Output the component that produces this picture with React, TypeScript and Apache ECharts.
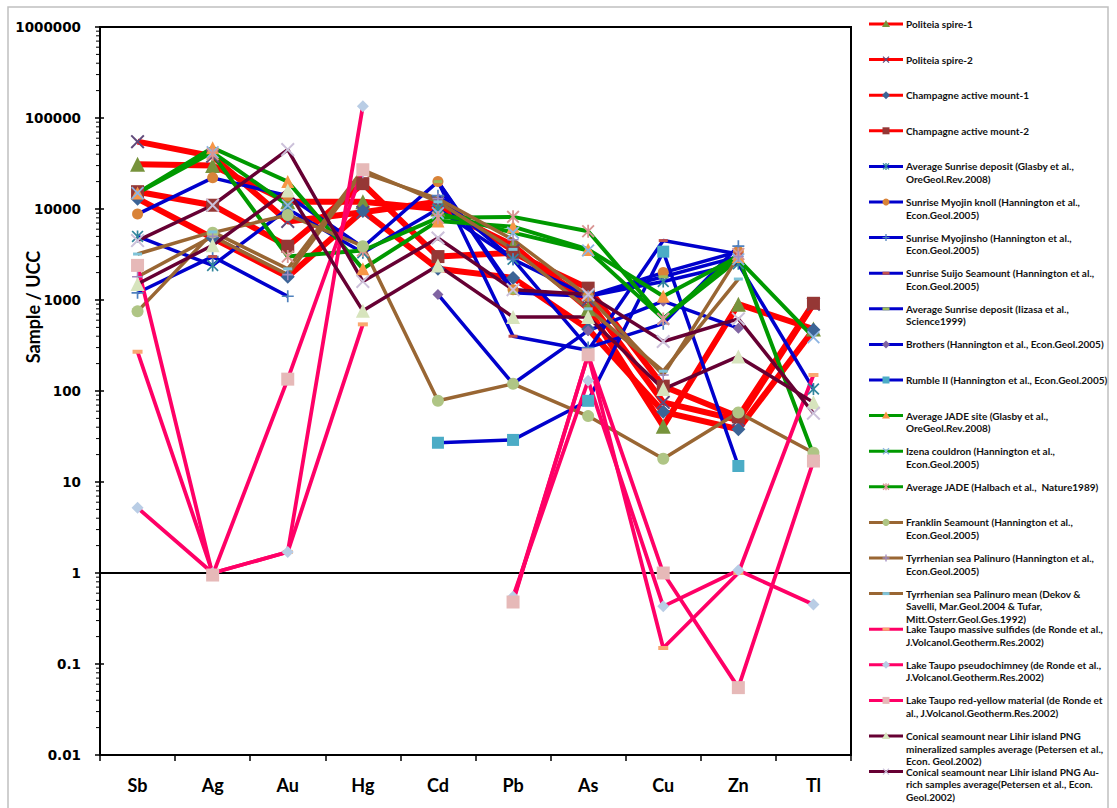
import React, { useEffect, useRef } from 'react';
import * as echarts from 'echarts';

// ---------- data ----------
const elements = ['Sb', 'Ag', 'Au', 'Hg', 'Cd', 'Pb', 'As', 'Cu', 'Zn', 'Tl'];

const politeiaSpire1 = [31000, 30000, 12000, 12000, 10000, 4000, 800, 41, 900, 480];
const politeiaSpire2 = [55000, 38000, 7300, 9200, 12000, 3500, 1000, 75, 48, 900];
const champagne1 = [13000, 4800, 1800, 9500, 2200, 1750, 480, 59, 38, 470];
const champagne2 = [15500, 11000, 3900, 19000, 3000, 3300, 1350, 113, 52, 920];
const sunriseGlasby = [5000, 2400, 10000, 3300, 10000, 2800, 1100, 1600, 2500, 105];
const myojinKnoll = [8800, 22000, 14000, 3800, 20000, 1300, 1100, 2000, 3400, null];
const myojinsho = [1200, 3000, 1100, null, 14000, 2800, 300, 550, 3900, null];
const suijo = [null, 3000, null, null, 20000, 400, 280, 4500, 3200, null];
const sunriseIizasa = [null, null, null, null, 20000, 1200, 1100, 1800, 3000, null];
const brothers = [null, null, null, null, 1150, 120, 460, 970, 490, null];
const rumble2 = [null, null, null, null, 27, 29, 78, 3400, 15, null];
const jadeGlasby = [15000, 47000, 20000, 2200, 7400, 6400, 3600, 1100, 3000, 20];
const izena = [15000, 42000, 11000, null, 9000, 5500, 3500, 620, 2800, 390];
const jadeHalbach = [null, 40000, 3000, 3500, 8000, 8200, 5700, 620, 3200, null];
const franklin = [750, 5500, 8600, 3900, 78, 120, 53, 18, 58, 21];
const palinuro = [1800, 5000, 1900, 25000, 13000, 4600, 1100, 150, 3000, null];
const palinuroMean = [3200, 5600, 2200, 27000, 12000, 3600, 800, 165, 1700, null];
const taupoMassive = [270, 1, 1.7, 540, null, 0.5, 250, 0.15, 1.0, 150];
const taupoPseudo = [5.2, 1, 1.7, 135000, null, 0.55, 130, 0.43, 1.07, 0.45];
const taupoRedYellow = [2400, 0.95, 135, 27000, null, 0.48, 250, 1.0, 0.055, 17];
const conicalMineral = [1500, 4000, 16000, 760, 2400, 650, 650, 105, 240, 75];
const conicalAuRich = [4500, 11000, 45000, 1600, 4800, 1300, 1150, 350, 620, 57];

const seriesNames = [
  'Politeia spire-1',
  'Politeia spire-2',
  'Champagne active mount-1',
  'Champagne active mount-2',
  'Average Sunrise deposit (Glasby et al.,\nOreGeol.Rev.2008)',
  'Sunrise Myojin knoll (Hannington et al.,\nEcon.Geol.2005)',
  'Sunrise Myojinsho (Hannington et al.,\nEcon.Geol.2005)',
  'Sunrise Suijo Seamount (Hannington et al.,\nEcon.Geol.2005)',
  'Average Sunrise deposit (Iizasa et al.,\nScience1999)',
  'Brothers (Hannington et al., Econ.Geol.2005)',
  'Rumble II (Hannington et al., Econ.Geol.2005)',
  'Average JADE site (Glasby et al.,\nOreGeol.Rev.2008)',
  'Izena couldron (Hannington et al.,\nEcon.Geol.2005)',
  'Average JADE (Halbach et al.,  Nature1989)',
  'Franklin Seamount (Hannington et al.,\nEcon.Geol.2005)',
  'Tyrrhenian sea Palinuro (Hannington et al.,\nEcon.Geol.2005)',
  'Tyrrhenian sea Palinuro mean (Dekov &\nSavelli, Mar.Geol.2004 & Tufar,\nMitt.Osterr.Geol.Ges.1992)',
  'Lake Taupo massive sulfides (de Ronde et al.,\nJ.Volcanol.Geotherm.Res.2002)',
  'Lake Taupo pseudochimney (de Ronde et al.,\nJ.Volcanol.Geotherm.Res.2002)',
  'Lake Taupo red-yellow material (de Ronde et\nal., J.Volcanol.Geotherm.Res.2002)',
  'Conical seamount near Lihir island PNG\nmineralized samples average (Petersen et al.,\nEcon. Geol.2002)',
  'Conical seamount near Lihir island PNG Au-\nrich samples average(Petersen et al., Econ.\nGeol.2002)',
];

// ---------- styling ----------
const RED = '#FF0000', BLUE = '#0000CC', GREEN = '#009900', BROWN = '#996633', PINK = '#FF0066', PURP = '#660033';

const PATHS: Record<string, string> = {
  x: 'path://M0,1 L1,0 L5,4 L9,0 L10,1 L6,5 L10,9 L9,10 L5,6 L1,10 L0,9 L4,5 Z',
  plus: 'path://M4.3,0 H5.7 V4.3 H10 V5.7 H5.7 V10 H4.3 V5.7 H0 V4.3 H4.3 Z',
  star: 'path://M0,1 L1,0 L5,4 L9,0 L10,1 L6,5 L10,9 L9,10 L5,6 L1,10 L0,9 L4,5 Z M4.3,0 H5.7 V10 H4.3 Z',
  dash: 'path://M0,0 H10 V3 H0 Z',
};

type Def = { data: (number | null)[]; line: string; width: number; kind: string; color: string; size: number | number[] };

const defs: Def[] = [
  { data: politeiaSpire1, line: RED, width: 6, kind: 'triangle', color: '#77933C', size: 15 },
  { data: politeiaSpire2, line: RED, width: 6, kind: 'x', color: '#604A7B', size: 14 },
  { data: champagne1, line: RED, width: 6, kind: 'diamond', color: '#3C6496', size: 14 },
  { data: champagne2, line: RED, width: 6, kind: 'rect', color: '#953735', size: 13 },
  { data: sunriseGlasby, line: BLUE, width: 3.5, kind: 'star', color: '#31859C', size: 12 },
  { data: myojinKnoll, line: BLUE, width: 3.5, kind: 'circle', color: '#D98338', size: 11 },
  { data: myojinsho, line: BLUE, width: 3.5, kind: 'plus', color: '#4F81BD', size: 12 },
  { data: suijo, line: BLUE, width: 3.5, kind: 'dash', color: '#C0504D', size: [9, 3] },
  { data: sunriseIizasa, line: BLUE, width: 3.5, kind: 'dash', color: '#9BBB59', size: [9, 3] },
  { data: brothers, line: BLUE, width: 3.5, kind: 'diamond', color: '#8064A2', size: 11 },
  { data: rumble2, line: BLUE, width: 3.5, kind: 'rect', color: '#4BACC6', size: 12 },
  { data: jadeGlasby, line: GREEN, width: 4, kind: 'triangle', color: '#F79646', size: 13 },
  { data: izena, line: GREEN, width: 4, kind: 'x', color: '#8DB4E2', size: 13 },
  { data: jadeHalbach, line: GREEN, width: 4, kind: 'star', color: '#D99694', size: 13 },
  { data: franklin, line: BROWN, width: 3.5, kind: 'circle', color: '#AFC585', size: 12 },
  { data: palinuro, line: BROWN, width: 3.5, kind: 'plus', color: '#9F8CC0', size: 11 },
  { data: palinuroMean, line: BROWN, width: 3.5, kind: 'dash', color: '#7FC3D8', size: [9, 3] },
  { data: taupoMassive, line: PINK, width: 3.8, kind: 'dash', color: '#F9A870', size: [10, 4] },
  { data: taupoPseudo, line: PINK, width: 3.8, kind: 'diamond', color: '#B9CDE5', size: 12 },
  { data: taupoRedYellow, line: PINK, width: 3.8, kind: 'rect', color: '#E6B9B8', size: 13 },
  { data: conicalMineral, line: PURP, width: 3.5, kind: 'triangle', color: '#D7E4BD', size: 14 },
  { data: conicalAuRich, line: PURP, width: 3.5, kind: 'x', color: '#CCC1DA', size: 14 },
];

function symbolOf(kind: string) {
  return PATHS[kind] ? PATHS[kind] : kind;
}

function legendMarker(kind: string, color: string, cx: number, cy: number): any[] {
  const ln = (x1: number, y1: number, x2: number, y2: number) => ({
    type: 'line', shape: { x1, y1, x2, y2 }, style: { stroke: color, lineWidth: 1.3 }, silent: true,
  });
  switch (kind) {
    case 'triangle':
      return [{ type: 'polygon', shape: { points: [[cx, cy - 4], [cx + 4, cy + 3], [cx - 4, cy + 3]] }, style: { fill: color }, silent: true }];
    case 'rect':
      return [{ type: 'rect', shape: { x: cx - 3.5, y: cy - 3.5, width: 7, height: 7 }, style: { fill: color }, silent: true }];
    case 'diamond':
      return [{ type: 'polygon', shape: { points: [[cx, cy - 4], [cx + 4, cy], [cx, cy + 4], [cx - 4, cy]] }, style: { fill: color }, silent: true }];
    case 'circle':
      return [{ type: 'circle', shape: { cx, cy, r: 3.5 }, style: { fill: color }, silent: true }];
    case 'x':
      return [ln(cx - 3, cy - 3, cx + 3, cy + 3), ln(cx - 3, cy + 3, cx + 3, cy - 3)];
    case 'plus':
      return [ln(cx, cy - 3.5, cx, cy + 3.5), ln(cx - 3.5, cy, cx + 3.5, cy)];
    case 'star':
      return [ln(cx - 3, cy - 3, cx + 3, cy + 3), ln(cx - 3, cy + 3, cx + 3, cy - 3), ln(cx, cy - 3.5, cx, cy + 3.5)];
    case 'dash':
    default:
      return [{ type: 'rect', shape: { x: cx - 3.5, y: cy - 1.5, width: 7, height: 3 }, style: { fill: color }, silent: true }];
  }
}

function yLabel(v: number) {
  const e = Math.round(Math.log10(v));
  return e >= 0 ? String(Math.pow(10, e)) : Math.pow(10, e).toFixed(-e);
}

export default function App() {
  const ref = useRef<HTMLDivElement>(null);

  useEffect(() => {
    if (!ref.current) return;
    const chart = echarts.init(ref.current, null, { renderer: 'svg' });

    const series: any[] = defs.map((d, i) => ({
      name: seriesNames[i].replace(/\n/g, ' '),
      type: 'line',
      data: d.data,
      connectNulls: false,
      showAllSymbol: true,
      symbol: symbolOf(d.kind),
      symbolSize: d.size,
      lineStyle: { color: d.line, width: d.width },
      itemStyle: { color: d.color, borderWidth: 0 },
      emphasis: { disabled: true },
      silent: true,
    }));
    series[0].markLine = {
      silent: true,
      symbol: 'none',
      label: { show: false },
      lineStyle: { color: '#000', width: 2, type: 'solid' },
      data: [{ yAxis: 1 }],
      z: 1,
    };

    chart.setOption({
      animation: false,
      backgroundColor: '#fff',
      grid: { left: 100, right: 266, top: 27, bottom: 53, show: true, borderColor: '#000', borderWidth: 2, backgroundColor: 'transparent' },
      xAxis: {
        type: 'category',
        data: elements,
        boundaryGap: true,
        axisLine: { onZero: false, lineStyle: { color: '#000', width: 2 } },
        axisTick: { show: true, length: 6, lineStyle: { color: '#000', width: 1.5 } },
        axisLabel: { color: '#000', fontFamily: 'Lato', fontWeight: 'bold', fontSize: 18, margin: 21 },
        splitLine: { show: false },
      },
      yAxis: {
        type: 'log',
        logBase: 10,
        min: 0.01,
        max: 1000000,
        splitNumber: 8,
        axisLine: { show: true, onZero: false, lineStyle: { color: '#000', width: 2 } },
        axisTick: { show: true, length: 5, lineStyle: { color: '#000', width: 1.5 } },
        splitLine: { show: false },
        axisLabel: { formatter: yLabel, color: '#000', fontFamily: 'DejaVu Sans', fontWeight: 'bold', fontSize: 13.5, margin: 19 },
      },
      series,
    });

    const g: any[] = [];
    // outer chart border
    g.push({ type: 'rect', shape: { x: 8, y: 7, width: 1100, height: 830 }, style: { fill: 'none', stroke: '#C0C0C0', lineWidth: 1.5 }, silent: true, z: -10 });
    // y axis title
    g.push({
      type: 'text', x: 33, y: 307, rotation: Math.PI / 2, silent: true,
      style: { text: 'Sample / UCC', font: 'bold 18px Lato', fill: '#000', align: 'center', verticalAlign: 'middle' },
    });
    // minor log ticks
    for (let e = -2; e < 6; e++) {
      for (let k = 2; k <= 9; k++) {
        const py = chart.convertToPixel({ yAxisIndex: 0 }, k * Math.pow(10, e)) as number;
        g.push({ type: 'line', shape: { x1: 96, y1: py, x2: 100, y2: py }, style: { stroke: '#000', lineWidth: 1 }, silent: true });
      }
    }
    for (let e = -2; e <= 6; e++) {
      const py = chart.convertToPixel({ yAxisIndex: 0 }, Math.pow(10, e)) as number;
      g.push({ type: 'line', shape: { x1: 100, y1: py, x2: 104, y2: py }, style: { stroke: '#000', lineWidth: 1.5 }, silent: true });
    }
    // legend
    defs.forEach((d, i) => {
      const y = 24 + i * 35.6;
      g.push({ type: 'line', shape: { x1: 869, y1: y, x2: 903, y2: y }, style: { stroke: d.line, lineWidth: 3 }, silent: true });
      legendMarker(d.kind, d.color, 886, y).forEach((m) => g.push(m));
      g.push({
        type: 'text', x: 906, y: y - 6.25, silent: true,
        style: { text: seriesNames[i], font: 'bold 10px Lato', lineHeight: 12.5, fill: '#111', align: 'left', verticalAlign: 'top' },
      });
    });
    chart.setOption({ graphic: g });

    return () => chart.dispose();
  }, []);

  return <div ref={ref} style={{ position: 'fixed', left: 0, top: 0, width: 1117, height: 808, background: '#fff' }} />;
}
